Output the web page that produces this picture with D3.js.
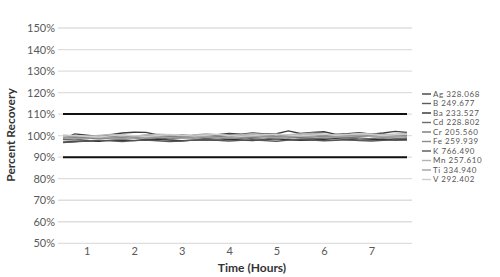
<!DOCTYPE html>
<html>
<head>
<meta charset="utf-8">
<script src="https://cdn.jsdelivr.net/npm/d3@7"></script>
<style>
  body { margin: 0; background: #fff; }
  text { font-family: Lato, "Noto Sans", sans-serif; }
</style>
</head>
<body>
<script>
// sample times (hours) along x
var times = [0.5, 0.75, 1, 1.25, 1.5, 1.75, 2, 2.25, 2.5, 2.75, 3, 3.25, 3.5, 3.75, 4,
             4.25, 4.5, 4.75, 5, 5.25, 5.5, 5.75, 6, 6.25, 6.5, 6.75, 7, 7.25, 7.5, 7.75];

var names = ['Ag 328.068', 'B 249.677', 'Ba 233.527', 'Cd 228.802', 'Cr 205.560',
             'Fe 259.939', 'K 766.490', 'Mn 257.610', 'Ti 334.940', 'V 292.402'];
var colors = ['#404040', '#5a5a5a', '#2f2f2f', '#6a6a6a', '#777777',
              '#8a8a8a', '#555555', '#b3b3b3', '#a3a3a3', '#cdcdcd'];

var ag = [98.5,100.8,100.2,99.6,100.4,101.2,101.6,101.5,100.3,99.2,99.4,100.1,100.6,100.4,101.0,100.7,101.3,100.8,100.9,102.2,101.0,101.5,101.8,100.6,100.9,101.4,100.7,101.2,102.0,101.5];
var b  = [99.2,99.6,99.0,99.4,99.8,100.2,99.6,99.0,99.3,99.8,100.3,99.9,99.5,100.0,100.4,99.7,99.2,99.6,100.1,100.3,99.8,99.4,100.0,100.5,100.2,99.7,100.1,100.6,100.3,100.0];
var ba = [97.0,97.3,97.6,97.4,97.8,98.0,97.7,98.2,98.4,98.0,97.6,97.9,98.1,97.8,98.3,98.0,97.7,98.2,98.5,98.1,97.8,98.0,98.3,98.6,98.2,97.9,98.1,98.4,98.0,98.2];
var cd = [98.2,98.0,98.6,99.0,98.7,98.4,98.9,99.3,98.8,98.5,98.9,99.2,98.7,98.3,98.8,99.1,98.6,98.4,98.9,99.3,99.0,98.6,98.8,99.2,98.9,98.5,98.7,99.1,98.8,98.6];
var cr = [99.5,99.1,98.7,99.2,99.6,99.0,98.6,99.1,99.5,99.9,99.4,98.9,99.3,99.7,99.2,98.8,99.3,99.8,99.4,98.9,99.2,99.6,99.9,99.5,99.1,99.4,99.8,100.2,99.7,99.4];
var fe = [98.8,99.3,99.8,99.4,98.9,99.3,99.7,100.2,99.8,99.3,99.6,100.0,99.5,99.1,99.4,99.9,100.3,99.8,99.4,99.7,100.1,100.4,99.9,99.6,100.0,100.5,100.2,99.8,100.1,100.4];
var k  = [96.8,97.2,97.5,97.9,97.6,97.3,97.7,98.0,97.6,97.3,97.5,97.9,98.2,97.8,97.5,97.8,98.1,97.7,97.4,97.9,98.3,98.0,97.6,97.8,98.1,97.7,97.5,97.8,98.0,97.9];
var mn = [100.2,100.0,99.6,100.1,100.5,100.2,99.8,100.3,100.7,100.4,100.0,100.3,100.8,100.5,100.1,100.4,100.9,100.6,100.2,100.5,100.8,101.1,100.7,100.3,100.6,101.0,100.8,100.4,100.7,101.0];
var ti = [99.0,98.6,98.9,99.3,98.9,98.5,98.8,99.2,99.5,99.1,98.8,99.1,99.6,99.2,98.9,99.3,99.7,99.3,99.0,99.4,99.8,99.5,99.1,99.4,99.7,100.0,99.6,99.3,99.5,99.8];
var v  = [99.8,100.1,99.7,99.4,99.9,100.3,100.0,99.6,100.1,100.5,100.2,99.8,100.2,100.6,100.1,99.7,100.0,100.4,100.7,100.3,99.9,100.3,100.6,100.2,100.5,100.9,100.5,100.1,100.4,100.7];

var series = [ag, b, ba, cd, cr, fe, k, mn, ti, v];

var yTicks = [50, 60, 70, 80, 90, 100, 110, 120, 130, 140, 150];
var xTicks = [1, 2, 3, 4, 5, 6, 7];
var limits = [90, 110];

var width = 500;
var height = 277;

var svg = d3.select('body').append('svg')
  .attr('width', width)
  .attr('height', height);

var xScale = d3.scaleLinear().domain([0.5, 7.75]).range([63, 407]);
var yScale = d3.scaleLinear().domain([50, 150]).range([243.3, 28]);

// gridlines
svg.append('g').selectAll('line')
  .data(yTicks)
  .enter()
  .append('line')
  .attr('x1', 58)
  .attr('x2', 412)
  .attr('y1', d => yScale(d))
  .attr('y2', d => yScale(d))
  .attr('stroke', '#dedede')
  .attr('stroke-width', 1.3);

// y axis labels
var yAxis = d3.axisLeft(yScale)
  .tickValues(yTicks)
  .tickSize(0)
  .tickPadding(0)
  .tickFormat(d => d + '%');

svg.append('g')
  .attr('transform', 'translate(55,0)')
  .call(yAxis)
  .call(g => g.select('.domain').remove())
  .selectAll('text')
  .attr('font-size', 11)
  .attr('fill', '#595959');

// x axis labels
var xAxis = d3.axisBottom(xScale)
  .tickValues(xTicks)
  .tickSize(0)
  .tickPadding(0)
  .tickFormat(d3.format('d'));

svg.append('g')
  .attr('transform', 'translate(0,247)')
  .call(xAxis)
  .call(g => g.select('.domain').remove())
  .selectAll('text')
  .attr('font-size', 11)
  .attr('fill', '#595959');

// limit lines
svg.append('g').selectAll('line')
  .data(limits)
  .enter()
  .append('line')
  .attr('x1', xScale(0.5))
  .attr('x2', xScale(7.75))
  .attr('y1', d => yScale(d))
  .attr('y2', d => yScale(d))
  .attr('stroke', '#111')
  .attr('stroke-width', 2);

// data lines
var line = d3.line()
  .x((d, i) => xScale(times[i]))
  .y(d => yScale(d));

svg.append('g').selectAll('path')
  .data(series)
  .enter()
  .append('path')
  .attr('d', d => line(d))
  .attr('fill', 'none')
  .attr('stroke', (d, i) => colors[i])
  .attr('stroke-width', 1.4);

// legend
var legend = svg.append('g').selectAll('g')
  .data(names)
  .enter()
  .append('g')
  .attr('transform', (d, i) => 'translate(422,' + (94 + i * 9.5) + ')');

legend.append('line')
  .attr('x1', 0)
  .attr('x2', 9)
  .attr('stroke', (d, i) => colors[i])
  .attr('stroke-width', 1.4);

legend.append('text')
  .attr('x', 11)
  .attr('y', 2.8)
  .attr('font-size', 8)
  .attr('letter-spacing', 0.55)
  .attr('fill', '#555')
  .text(d => d);

// axis titles
svg.append('text')
  .attr('transform', 'translate(15,135) rotate(-90)')
  .attr('text-anchor', 'middle')
  .attr('font-size', 12)
  .attr('font-weight', 'bold')
  .attr('fill', '#333')
  .text('Percent Recovery');

svg.append('text')
  .attr('x', 252)
  .attr('y', 271.5)
  .attr('text-anchor', 'middle')
  .attr('font-size', 12)
  .attr('font-weight', 'bold')
  .attr('fill', '#333')
  .text('Time (Hours)');
</script>
</body>
</html>
